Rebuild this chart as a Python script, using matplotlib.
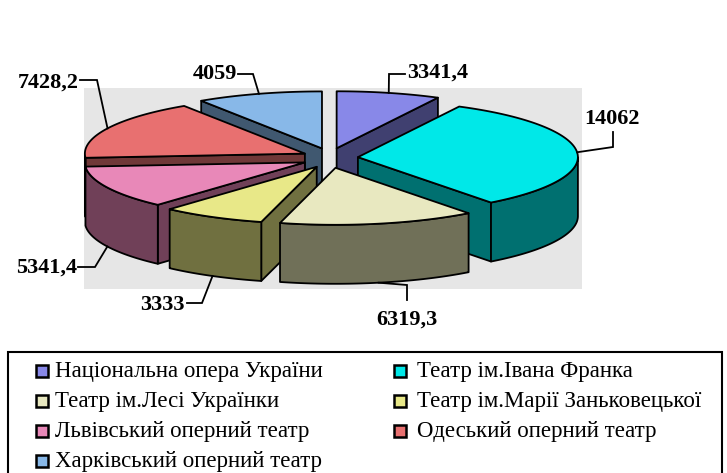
import numpy as np
import matplotlib
matplotlib.use("Agg")
import matplotlib.pyplot as plt
from matplotlib.patches import Polygon, Rectangle

# ---- data ----
names = ["Національна опера України", "Театр ім.Івана Франка", "Театр ім.Лесі Українки",
         "Театр ім.Марії Заньковецької", "Львівський оперний театр", "Одеський оперний театр",
         "Харківський оперний театр"]
values = [3341.4, 14062, 6319.3, 3333, 5341.4, 7428.2, 4059]
labels = ["3341,4", "14062", "6319,3", "3333", "5341,4", "7428,2", "4059"]
top_colors = ["#8888E8", "#00E8E8", "#E8E8C0", "#E8E888", "#E888B8", "#E87070", "#88B8E8"]
side_colors = ["#404070", "#007070", "#707058", "#707040", "#704058", "#703838", "#405870"]

# ---- layout (pixels) ----
W, H = 727, 473
CX, CY, RX, RY, DEPTH = 330, 158, 220, 57, 59
EX, EY = 28, 10
# label: (elbow x, elbow y, end x, end y, text x, text baseline y, ha)
label_layout = [
    (389, 74, 405, 74, 407, 78, "left"),
    (613, 147, 613, 132, 612, 124, "center"),
    (407, 285, 407, 300, 407, 325, "center"),
    (202, 303, 187, 303, 185, 310, "right"),
    (95, 267, 78, 267, 77, 273, "right"),
    (97, 80, 80, 80, 79, 88, "right"),
    (253, 74, 238, 74, 237, 79, "right"),
]

fig = plt.figure(figsize=(W / 100, H / 100), dpi=100)
ax = fig.add_axes([0, 0, 1, 1])
ax.set_xlim(0, W)
ax.set_ylim(H, 0)
ax.axis("off")

ax.add_patch(Rectangle((84, 88), 498, 201, facecolor="#E6E6E6", edgecolor="none", zorder=0))

total = float(sum(values))
spans = [v / total * 360.0 for v in values]
slices = []
start = 90.0
for i, s in enumerate(spans):
    hi = start
    lo = start - s
    start = lo
    mid = (lo + hi) / 2
    slices.append((i, lo, hi, mid))


def rim(theta_deg, ox, oy, dz=0.0):
    t = np.radians(theta_deg)
    return CX + ox + RX * np.cos(t), CY + oy - RY * np.sin(t) + dz


LW = 1.3
z = 1
order = sorted(slices, key=lambda s: -np.sin(np.radians(s[3])))
for i, lo, hi, mid in order:
    m = np.radians(mid)
    ox, oy = EX * np.cos(m), -EY * np.sin(m)
    apex = (CX + ox, CY + oy)
    apex_b = (CX + ox, CY + oy + DEPTH)
    sc = side_colors[i]
    # radial faces
    for ang, normal in ((lo, lo - 90), (hi, hi + 90)):
        if np.sin(np.radians(normal)) < 0:
            p = rim(ang, ox, oy)
            pb = rim(ang, ox, oy, DEPTH)
            ax.add_patch(Polygon([apex, p, pb, apex_b], closed=True, facecolor=sc,
                                 edgecolor="black", lw=LW, zorder=z, joinstyle="round"))
            z += 1
    # outer curved side
    th = np.linspace(lo, hi, 400)
    vis = np.sin(np.radians(th)) <= 0
    runs = []
    cur = []
    for t, v in zip(th, vis):
        if v:
            cur.append(t)
        elif cur:
            runs.append(cur)
            cur = []
    if cur:
        runs.append(cur)
    for r in runs:
        if len(r) < 2:
            continue
        r = np.array(r)
        xt, yt = rim(r, ox, oy)
        xb, yb = rim(r[::-1], ox, oy, DEPTH)
        pts = np.column_stack([np.concatenate([xt, xb]), np.concatenate([yt, yb])])
        ax.add_patch(Polygon(pts, closed=True, facecolor=sc, edgecolor="black",
                             lw=LW, zorder=z, joinstyle="round"))
        z += 1
    # top face
    xt, yt = rim(th, ox, oy)
    pts = np.vstack([[apex], np.column_stack([xt, yt])])
    ax.add_patch(Polygon(pts, closed=True, facecolor=top_colors[i], edgecolor="black",
                         lw=LW, zorder=z, joinstyle="round"))
    z += 1

# labels with leader lines
for i, lo, hi, mid in slices:
    m = np.radians(mid)
    ox, oy = EX * np.cos(m), -EY * np.sin(m)
    dz = DEPTH if np.sin(m) < 0 else 0.0
    ax_, ay_ = rim(mid, ox, oy, dz)
    exx, eyy, ex2, ey2, tx, ty, ha = label_layout[i]
    ax.plot([ax_, exx, ex2], [ay_, eyy, ey2], color="black", lw=1.3, zorder=z,
            solid_joinstyle="miter")
    ax.text(tx, ty, labels[i], ha=ha, va="baseline", fontsize=16, fontweight="bold",
            family="Liberation Serif", color="black", zorder=z + 1)

# legend
z += 5
ax.add_patch(Rectangle((8, 352), 714, 140, facecolor="white", edgecolor="black",
                       lw=1.5, zorder=z, clip_on=False))
col_marker_x = [36, 394]
col_text_x = [55, 417]
row_base = [377, 407, 437, 467]
for i, name in enumerate(names):
    col = i % 2
    row = i // 2
    by = row_base[row]
    ax.add_patch(Rectangle((col_marker_x[col], by - 12), 12, 12, facecolor=top_colors[i],
                           edgecolor="black", lw=1.8, zorder=z + 1))
    ax.text(col_text_x[col], by, name, ha="left", va="baseline", fontsize=16.5,
            family="Liberation Serif", color="black", zorder=z + 1)

fig.savefig("out.png", dpi=100)
